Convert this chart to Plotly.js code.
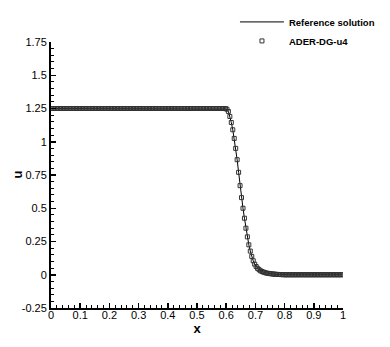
<!DOCTYPE html>
<html>
<head>
<meta charset="utf-8">
<script src="https://cdn.plot.ly/plotly-3.0.1.min.js"></script>
<style>
  html, body { margin: 0; padding: 0; background: #fff; }
  #chart { width: 390px; height: 347px; }
</style>
</head>
<body>
<div id="chart"></div>
<script>
// grid points of the ADER-DG solution (cell sub-nodes)
const xs = [
  0.0025, 0.0075, 0.0125, 0.0175, 0.0225, 0.0275, 0.0325, 0.0375, 0.0425, 0.0475,
  0.0525, 0.0575, 0.0625, 0.0675, 0.0725, 0.0775, 0.0825, 0.0875, 0.0925, 0.0975,
  0.1025, 0.1075, 0.1125, 0.1175, 0.1225, 0.1275, 0.1325, 0.1375, 0.1425, 0.1475,
  0.1525, 0.1575, 0.1625, 0.1675, 0.1725, 0.1775, 0.1825, 0.1875, 0.1925, 0.1975,
  0.2025, 0.2075, 0.2125, 0.2175, 0.2225, 0.2275, 0.2325, 0.2375, 0.2425, 0.2475,
  0.2525, 0.2575, 0.2625, 0.2675, 0.2725, 0.2775, 0.2825, 0.2875, 0.2925, 0.2975,
  0.3025, 0.3075, 0.3125, 0.3175, 0.3225, 0.3275, 0.3325, 0.3375, 0.3425, 0.3475,
  0.3525, 0.3575, 0.3625, 0.3675, 0.3725, 0.3775, 0.3825, 0.3875, 0.3925, 0.3975,
  0.4025, 0.4075, 0.4125, 0.4175, 0.4225, 0.4275, 0.4325, 0.4375, 0.4425, 0.4475,
  0.4525, 0.4575, 0.4625, 0.4675, 0.4725, 0.4775, 0.4825, 0.4875, 0.4925, 0.4975,
  0.5025, 0.5075, 0.5125, 0.5175, 0.5225, 0.5275, 0.5325, 0.5375, 0.5425, 0.5475,
  0.5525, 0.5575, 0.5625, 0.5675, 0.5725, 0.5775, 0.5825, 0.5875, 0.5925, 0.5975,
  0.6025, 0.6075, 0.6125, 0.6175, 0.6225, 0.6275, 0.6325, 0.6375, 0.6425, 0.6475,
  0.6525, 0.6575, 0.6625, 0.6675, 0.6725, 0.6775, 0.6825, 0.6875, 0.6925, 0.6975,
  0.7025, 0.7075, 0.7125, 0.7175, 0.7225, 0.7275, 0.7325, 0.7375, 0.7425, 0.7475,
  0.7525, 0.7575, 0.7625, 0.7675, 0.7725, 0.7775, 0.7825, 0.7875, 0.7925, 0.7975,
  0.8025, 0.8075, 0.8125, 0.8175, 0.8225, 0.8275, 0.8325, 0.8375, 0.8425, 0.8475,
  0.8525, 0.8575, 0.8625, 0.8675, 0.8725, 0.8775, 0.8825, 0.8875, 0.8925, 0.8975,
  0.9025, 0.9075, 0.9125, 0.9175, 0.9225, 0.9275, 0.9325, 0.9375, 0.9425, 0.9475,
  0.9525, 0.9575, 0.9625, 0.9675, 0.9725, 0.9775, 0.9825, 0.9875, 0.9925, 0.9975,
];

const uAder = [
  1.25, 1.25, 1.25, 1.25, 1.25, 1.25, 1.25, 1.25, 1.25, 1.25,
  1.25, 1.25, 1.25, 1.25, 1.25, 1.25, 1.25, 1.25, 1.25, 1.25,
  1.25, 1.25, 1.25, 1.25, 1.25, 1.25, 1.25, 1.25, 1.25, 1.25,
  1.25, 1.25, 1.25, 1.25, 1.25, 1.25, 1.25, 1.25, 1.25, 1.25,
  1.25, 1.25, 1.25, 1.25, 1.25, 1.25, 1.25, 1.25, 1.25, 1.25,
  1.25, 1.25, 1.25, 1.25, 1.25, 1.25, 1.25, 1.25, 1.25, 1.25,
  1.25, 1.25, 1.25, 1.25, 1.25, 1.25, 1.25, 1.25, 1.25, 1.25,
  1.25, 1.25, 1.25, 1.25, 1.25, 1.25, 1.25, 1.25, 1.25, 1.25,
  1.25, 1.25, 1.25, 1.25, 1.25, 1.25, 1.25, 1.25, 1.25, 1.25,
  1.25, 1.25, 1.25, 1.25, 1.25, 1.25, 1.25, 1.25, 1.25, 1.25,
  1.25, 1.25, 1.25, 1.25, 1.25, 1.25, 1.25, 1.25, 1.25, 1.25,
  1.25, 1.25, 1.25, 1.25, 1.25, 1.25, 1.25, 1.25, 1.25, 1.249,
  1.245, 1.228, 1.190, 1.145, 1.090, 1.025, 0.950, 0.865, 0.770, 0.670,
  0.580, 0.500, 0.425, 0.350, 0.285, 0.225, 0.178, 0.138, 0.105, 0.080,
  0.062, 0.048, 0.038, 0.030, 0.024, 0.020, 0.016, 0.013, 0.011, 0.009,
  0.008, 0.006, 0.005, 0.004, 0.003, 0.002, 0.002, 0.001, 0.001, 0.000,
  0, 0, 0, 0, 0, 0, 0, 0, 0, 0,
  0, 0, 0, 0, 0, 0, 0, 0, 0, 0,
  0, 0, 0, 0, 0, 0, 0, 0, 0, 0,
  0, 0, 0, 0, 0, 0, 0, 0, 0, 0,
];

// reference solution drawn through the same nodes
const xRef = xs;
const uRef = uAder;

const xTicks = [0, 0.1, 0.2, 0.3, 0.4, 0.5, 0.6, 0.7, 0.8, 0.9, 1];
const xTickText = ["0", "0.1", "0.2", "0.3", "0.4", "0.5", "0.6", "0.7", "0.8", "0.9", "1"];
const yTicks = [-0.25, 0, 0.25, 0.5, 0.75, 1, 1.25, 1.5, 1.75];
const yTickText = ["-0.25", "0", "0.25", "0.5", "0.75", "1", "1.25", "1.5", "1.75"];

const traces = [
  {
    x: xRef,
    y: uRef,
    name: "Reference solution",
    type: "scatter",
    mode: "lines",
    line: { color: "#000", width: 1 },
  },
  {
    x: xs,
    y: uAder,
    name: "ADER-DG-u4",
    type: "scatter",
    mode: "markers",
    marker: {
      symbol: "square-open",
      size: 4,
      color: "#333",
      line: { color: "#333", width: 1 },
    },
  },
];

const axisBase = {
  showline: true,
  linewidth: 2,
  linecolor: "#000",
  showgrid: false,
  zeroline: false,
  ticks: "inside",
  ticklen: 5,
  tickwidth: 1.5,
  tickcolor: "#000",
  tickmode: "array",
};

const layout = {
  width: 390,
  height: 347,
  margin: { l: 51, r: 47, t: 42, b: 39, autoexpand: false },
  paper_bgcolor: "white",
  plot_bgcolor: "white",
  font: { family: "Liberation Sans, Arial, sans-serif", size: 11, color: "#000" },
  xaxis: {
    ...axisBase,
    range: [0, 1],
    tickvals: xTicks,
    ticktext: xTickText,
    ticklabelstandoff: -4,
    minor: { tickmode: "linear", tick0: 0, dtick: 0.02, ticks: "inside", ticklen: 3, tickwidth: 1, tickcolor: "#000" },
    title: { text: "x", font: { size: 13, weight: "bold" }, standoff: 2 },
  },
  yaxis: {
    ...axisBase,
    range: [-0.25, 1.75],
    tickvals: yTicks,
    ticktext: yTickText,
    minor: { tickmode: "linear", tick0: 0, dtick: 0.05, ticks: "inside", ticklen: 3, tickwidth: 1, tickcolor: "#000" },
  },
  // y-axis label sits close to the tick labels, as in the original
  annotations: [
    {
      text: "u",
      xref: "paper",
      yref: "paper",
      x: -0.118,
      y: 0.5,
      xanchor: "center",
      yanchor: "middle",
      textangle: -90,
      showarrow: false,
      font: { size: 13, weight: "bold" },
    },
  ],
  showlegend: true,
  legend: {
    x: 0.63,
    y: 1.13,
    xanchor: "left",
    yanchor: "top",
    bgcolor: "rgba(0,0,0,0)",
    itemwidth: 44,
    tracegroupgap: 0,
    font: { size: 9.5, weight: "bold" },
  },
};

Plotly.newPlot("chart", traces, layout, { displayModeBar: false, staticPlot: true });
</script>
</body>
</html>
